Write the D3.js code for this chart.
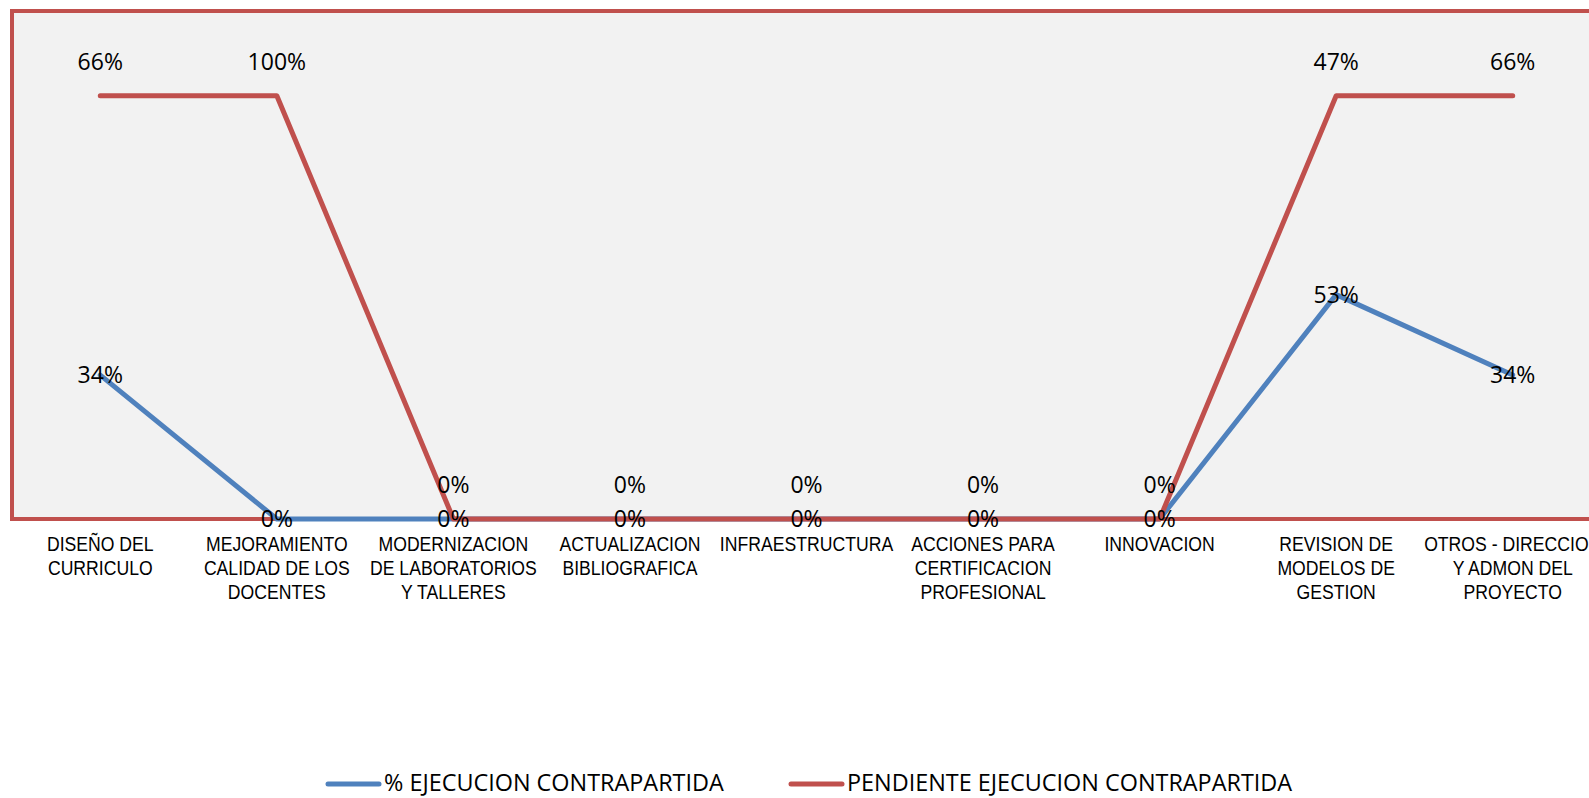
<!DOCTYPE html>
<html>
<head>
<meta charset="utf-8">
<script src="https://cdn.jsdelivr.net/npm/d3@7"></script>
<style>
  body { margin: 0; background: #fff; }
  svg { display: block; }
  .lbl { font-family: "Open Sans", "Noto Sans", sans-serif; font-size: 23px; fill: #000; }
  .cat { font-family: "Liberation Sans", Arial, sans-serif; font-size: 20.5px; fill: #000; }
  .leg { font-family: "Open Sans", "Noto Sans", sans-serif; font-size: 23.4px; fill: #000; }
</style>
</head>
<body>
<svg id="chart" width="1589" height="798"></svg>
<script>
// categories (one array of lines per tick label)
const categories = [
	["DISEÑO DEL", "CURRICULO"],
	["MEJORAMIENTO", "CALIDAD DE LOS", "DOCENTES"],
	["MODERNIZACION", "DE LABORATORIOS", "Y TALLERES"],
	["ACTUALIZACION", "BIBLIOGRAFICA"],
	["INFRAESTRUCTURA"],
	["ACCIONES PARA", "CERTIFICACION", "PROFESIONAL"],
	["INNOVACION"],
	["REVISION DE", "MODELOS DE", "GESTION"],
	["OTROS - DIRECCION", "Y ADMON DEL", "PROYECTO"]
];
const ejecucion = [0.34, 0, 0, 0, 0, 0, 0, 0.53, 0.34];
const pendiente = [0.66, 1.00, 0, 0, 0, 0, 0, 0.47, 0.66];
const seriesNames = ["% EJECUCION CONTRAPARTIDA", "PENDIENTE EJECUCION CONTRAPARTIDA"];
const colors = ["#4f81bd", "#c0504d"];

const svg = d3.select("#chart");

const plot = { left: 12, top: 11, right: 1601, bottom: 519 };

const keys = categories.map(function(d, i) { return i; });
const x = d3.scaleBand()
  .domain(keys)
  .range([plot.left, plot.right])
  .paddingInner(0)
  .paddingOuter(0);
const y = d3.scaleLinear()
  .domain([0, 1.2])
  .range([plot.bottom, plot.top]);

const cx = function(i) { return x(i) + x.bandwidth() / 2; };

// stacked lines: second series sits on top of the first
const rows = keys.map(function(i) { return { i: i, a: ejecucion[i], b: pendiente[i] }; });
const stacked = d3.stack().keys(["a", "b"])(rows);

// plot area
svg.append("rect")
  .attr("x", plot.left)
  .attr("y", plot.top)
  .attr("width", plot.right - plot.left)
  .attr("height", plot.bottom - plot.top)
  .attr("fill", "#f2f2f2")
  .attr("stroke", colors[1])
  .attr("stroke-width", 4);

const line = d3.line()
  .x(function(d) { return cx(d.data.i); })
  .y(function(d) { return y(d[1]); });

svg.selectAll("path.series")
  .data(stacked)
  .join("path")
  .attr("class", "series")
  .attr("d", line)
  .attr("fill", "none")
  .attr("stroke", function(d, k) { return colors[k]; })
  .attr("stroke-width", 5)
  .attr("stroke-linejoin", "round")
  .attr("stroke-linecap", "round");

const fmt = d3.format(".0%");

// labels for first series: centred on the point
svg.selectAll("text.la")
  .data(stacked[0])
  .join("text")
  .attr("class", "lbl la")
  .attr("x", function(d) { return cx(d.data.i); })
  .attr("y", function(d) { return y(d[1]) + 8; })
  .attr("text-anchor", "middle")
  .text(function(d) { return fmt(d.data.a); });

// labels for second series: above the point
svg.selectAll("text.lb")
  .data(stacked[1])
  .join("text")
  .attr("class", "lbl lb")
  .attr("x", function(d) { return cx(d.data.i); })
  .attr("y", function(d) { return y(d[1]) - 26; })
  .attr("text-anchor", "middle")
  .text(function(d) { return fmt(d.data.b); });

// category labels (narrow face: squeeze horizontally)
const ticks = svg.selectAll("text.cat")
  .data(categories)
  .join("text")
  .attr("class", "cat")
  .attr("text-anchor", "middle")
  .attr("transform", function(d, i) { return "translate(" + cx(i) + ",551) scale(0.86,1)"; });
ticks.selectAll("tspan")
  .data(function(d) { return d; })
  .join("tspan")
  .attr("x", 0)
  .attr("dy", function(d, j) { return j === 0 ? 0 : 24; })
  .text(function(d) { return d; });

// legend
const legX = [326, 789];
const leg = svg.selectAll("g.leg")
  .data(seriesNames)
  .join("g")
  .attr("class", "leg")
  .attr("transform", function(d, k) { return "translate(" + legX[k] + ",784)"; });
leg.append("line")
  .attr("x1", 2).attr("x2", 53)
  .attr("y1", 0).attr("y2", 0)
  .attr("stroke", function(d, k) { return colors[k]; })
  .attr("stroke-width", 5)
  .attr("stroke-linecap", "round");
leg.append("text")
  .attr("class", "leg")
  .attr("x", 58)
  .attr("y", 7)
  .text(function(d) { return d; });
</script>
</body>
</html>
